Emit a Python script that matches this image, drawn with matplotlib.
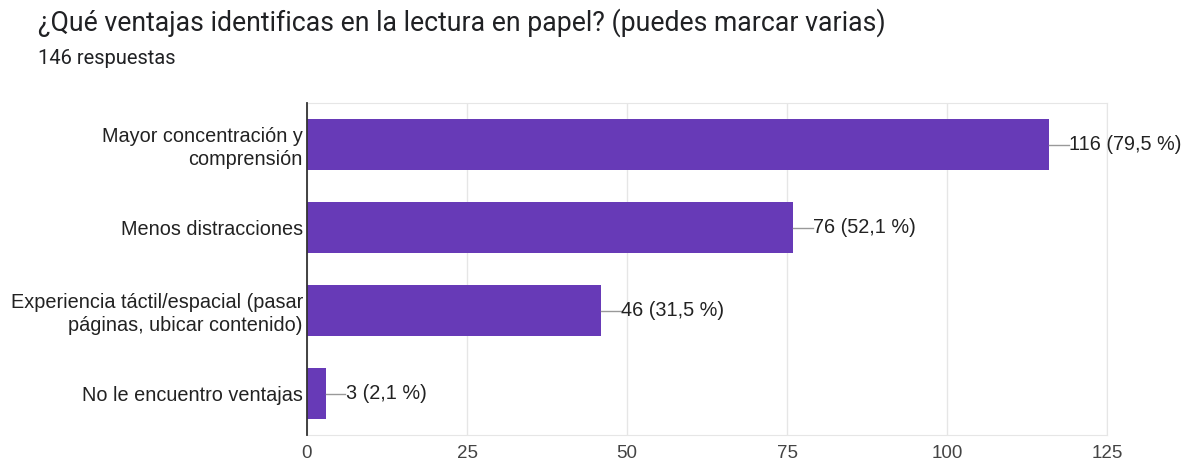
import matplotlib.pyplot as plt

categories = ["Mayor concentración y\ncomprensión",
              "Menos distracciones",
              "Experiencia táctil/espacial (pasar\npáginas, ubicar contenido)",
              "No le encuentro ventajas"]
counts = [116, 76, 46, 3]
percents = ["79,5", "52,1", "31,5", "2,1"]
xticks = [0, 25, 50, 75, 100, 125]

fig = plt.figure(figsize=(11.88, 4.62), dpi=100)
ax = fig.add_axes([307/1188, 27/462, 800/1188, 332/462])

ypos = list(range(len(categories)))
ax.barh(ypos, counts, height=0.62, color="#673ab7", zorder=3)

# leader lines + value labels
for y, c, p in zip(ypos, counts, percents):
    ax.plot([c, c + 3.0], [y, y], color="#999999", lw=1, zorder=3)
    ax.text(c + 3.1, y, "{} ({} %)".format(c, p), va="center", ha="left",
            fontsize=14.3, color="#222222", family="Liberation Sans")

ax.set_ylim(3.5, -0.5)
ax.set_xlim(0, 125)
ax.set_xticks(xticks)
ax.set_yticks(ypos)
ax.set_yticklabels(categories, family="Liberation Sans", fontsize=14.3,
                   color="#222222", linespacing=1.25)
for lab in ax.get_xticklabels():
    lab.set_family("Liberation Sans")
    lab.set_fontsize(13.5)
    lab.set_color("#444444")
ax.tick_params(axis="both", length=0)
ax.tick_params(axis="x", pad=7)
ax.tick_params(axis="y", pad=3)
ax.xaxis.grid(True, color="#e6e6e6", lw=1, zorder=0)
for s in ["top", "right", "bottom"]:
    ax.spines[s].set_color("#e6e6e6")
ax.spines["left"].set_color("#333333")
ax.spines["left"].set_linewidth(1.3)
ax.spines["left"].set_zorder(4)

fig.text(38/1188, 1 - 23/462, "¿Qué ventajas identificas en la lectura en papel? (puedes marcar varias)",
         fontsize=19.2, family="Roboto", color="#202124", va="center", ha="left")
fig.text(38/1188, 1 - 58/462, "146 respuestas", fontsize=14.5, family="Roboto",
         color="#202124", va="center", ha="left")

fig.savefig("out.png", dpi=100, facecolor="white")
